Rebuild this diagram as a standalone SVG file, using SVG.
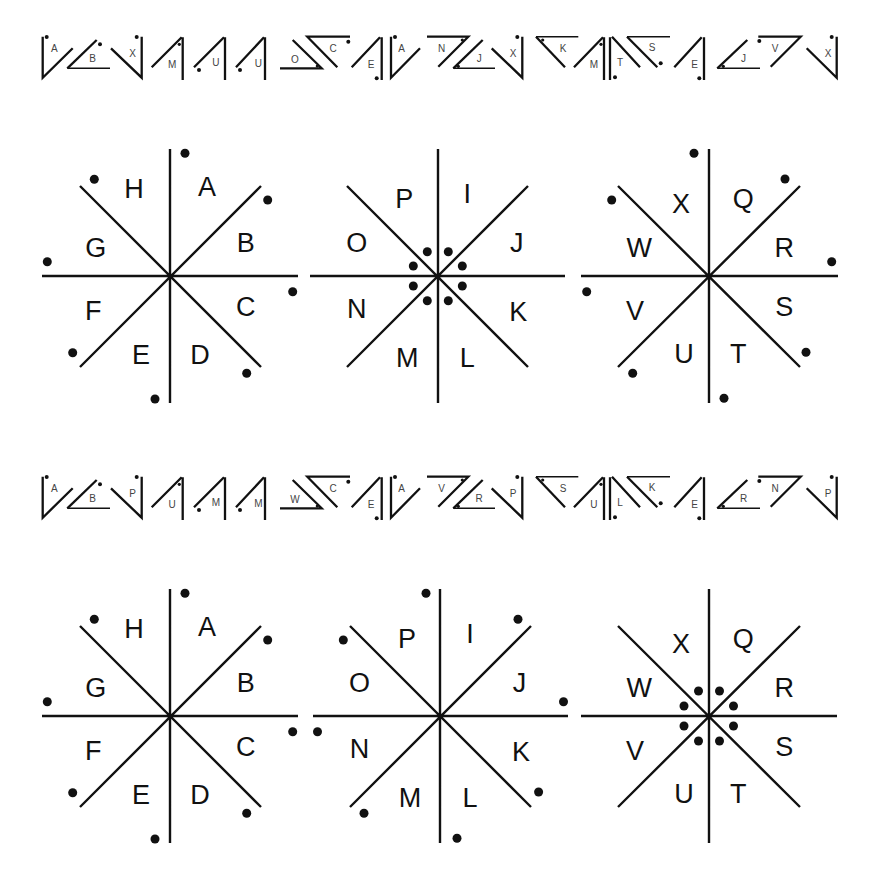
<svg xmlns="http://www.w3.org/2000/svg" width="880" height="880" viewBox="0 0 880 880">
<defs>
<style>
.g{fill:none;stroke:#111;stroke-width:2.3}
.t{stroke-width:1.6}
.s{fill:none;stroke:#111;stroke-width:2.4}
.d{fill:#111}
.gl{font-family:"Liberation Sans",Arial,sans-serif;font-size:10px;fill:#444;text-anchor:middle}
.sl{font-family:"Liberation Sans",Arial,sans-serif;font-size:27px;fill:#111;text-anchor:middle}
</style>
<g id="glyphs">
<path class="g" d="M42.7,36.7V77.7L72.7,48.3"/><circle class="d" cx="46.7" cy="37" r="2"/>
<path class="g" d="M96.7,40L67.3,68.3"/><path class="g t" d="M67.3,68.3H110"/><circle class="d" cx="100" cy="44.3" r="2"/>
<path class="g" d="M111,48.3L141.7,77.7V36.7"/><circle class="d" cx="136.7" cy="37" r="2"/>
<path class="g" d="M151.7,67.3L181.7,37.3M182.7,37.3V80"/><circle class="d" cx="179.3" cy="44.3" r="1.6"/>
<path class="g" d="M194,67.3L224,37.3M225,37.3V80"/><circle class="d" cx="199" cy="70" r="2"/>
<path class="g" d="M236,67.3L264,37.3M265,37.3V80"/><circle class="d" cx="240" cy="70" r="2"/>
<path class="g" d="M292.7,40L321.7,68.3H280"/><circle class="d" cx="317.3" cy="66" r="1.6"/>
<path class="g" d="M350,36.7H307.3L337.3,67.3"/><circle class="d" cx="348.3" cy="41.7" r="2"/>
<path class="g" d="M351.7,67.3L380,37.3M381.7,37.3V80"/><circle class="d" cx="376.7" cy="78.3" r="2"/>
<path class="g" d="M391,36.7V77.7L420,48.3"/><circle class="d" cx="395" cy="37" r="2"/>
<path class="g" d="M427,36.7H468.3L438.3,66.7"/><circle class="d" cx="462.3" cy="40" r="1.6"/>
<path class="g" d="M482.7,40L453.3,68.3"/><path class="g t" d="M453.3,68.3H495"/><circle class="d" cx="458.3" cy="66.3" r="1.6"/>
<path class="g" d="M491.7,48.3L522.3,77.7V36.7"/><circle class="d" cx="517.3" cy="37" r="2"/>
<path class="g t" d="M578.3,36.7H536"/><path class="g" d="M536,36.7L565,67.3"/><circle class="d" cx="542.7" cy="40" r="1.6"/>
<path class="g" d="M574,67.3L603,37.3M604,37.3V80"/><circle class="d" cx="601" cy="44.3" r="1.6"/>
<path class="g" d="M610,37.3V80M612,36.7L640,67.3"/><circle class="d" cx="615" cy="77.3" r="2"/>
<path class="g t" d="M670,36.7H627"/><path class="g" d="M627,36.7L657.3,67.3"/><circle class="d" cx="660.7" cy="63.3" r="2"/>
<path class="g" d="M674.3,67.3L701.7,37.3M704,37.3V80"/><circle class="d" cx="699.3" cy="78.3" r="2"/>
<path class="g" d="M747.3,40L717.3,68.3"/><path class="g t" d="M717.3,68.3H760"/><circle class="d" cx="723.3" cy="66.3" r="1.6"/>
<path class="g" d="M758.3,36.7H800.7L770.7,66.7"/><circle class="d" cx="759.3" cy="41" r="2"/>
<path class="g" d="M806.7,48.3L836.7,77.7V36.7"/><circle class="d" cx="831.7" cy="37" r="2"/>
</g>
</defs>

<g id="row1">
<use href="#glyphs"/>
<g class="gl">
<text x="54.3" y="51.7">A</text><text x="92.5" y="62.3">B</text><text x="132.5" y="56.7">X</text><text x="172.2" y="68.3">M</text><text x="215.8" y="65.7">U</text><text x="258.3" y="66.7">U</text><text x="295" y="62.7">O</text><text x="333" y="51.7">C</text><text x="371.2" y="67.7">E</text><text x="401.7" y="51.7">A</text><text x="441.7" y="51.7">N</text><text x="479.2" y="61.7">J</text><text x="513" y="56.7">X</text><text x="563" y="52.3">K</text><text x="593.8" y="67.7">M</text><text x="620" y="65.7">T</text><text x="652.2" y="50.7">S</text><text x="694.5" y="67.7">E</text><text x="743.5" y="62.3">J</text><text x="775" y="51.7">V</text><text x="828" y="56.7">X</text>
</g>
</g>

<g id="row2">
<use href="#glyphs" transform="translate(0,440)"/>
<g class="gl">
<text x="54.3" y="491.7">A</text><text x="92.5" y="502.3">B</text><text x="132.5" y="496.7">P</text><text x="172.2" y="508.3">U</text><text x="215.8" y="505.7">M</text><text x="258.3" y="506.7">M</text><text x="295" y="502.7">W</text><text x="333" y="491.7">C</text><text x="371.2" y="507.7">E</text><text x="401.7" y="491.7">A</text><text x="441.7" y="491.7">V</text><text x="479.2" y="501.7">R</text><text x="513" y="496.7">P</text><text x="563" y="492.3">S</text><text x="593.8" y="507.7">U</text><text x="620" y="505.7">L</text><text x="652.2" y="490.7">K</text><text x="694.5" y="507.7">E</text><text x="743.5" y="502.3">R</text><text x="775" y="491.7">N</text><text x="828" y="496.7">P</text>
</g>
</g>

<g id="star1">
<path class="s" d="M170,149V403M42,276H298M80,186L261,367M80,367L261,186"/>
<circle class="d" cx="170" cy="276" r="2.5"/>
<g class="d"><circle cx="185" cy="153.3" r="4.5"/><circle cx="267.7" cy="200" r="4.5"/><circle cx="292.7" cy="291.7" r="4.5"/><circle cx="246.7" cy="373.3" r="4.5"/><circle cx="155" cy="399" r="4.5"/><circle cx="72.7" cy="352.7" r="4.5"/><circle cx="47.3" cy="261.7" r="4.5"/><circle cx="94.3" cy="179.3" r="4.5"/></g>
<g class="sl"><text x="134" y="198.3">H</text><text x="207" y="196">A</text><text x="245.7" y="251.7">B</text><text x="245.7" y="316">C</text><text x="200" y="364.3">D</text><text x="141" y="364.3">E</text><text x="93.3" y="320">F</text><text x="95.7" y="257.3">G</text></g>
</g>

<g id="star2">
<path class="s" d="M438,149V403M310,276H565M347,186L528,367M347,367L528,186"/>
<circle class="d" cx="438" cy="276" r="2.5"/>
<g class="d"><circle cx="427.3" cy="251.7" r="4.5"/><circle cx="448.3" cy="251.7" r="4.5"/><circle cx="413.3" cy="266" r="4.5"/><circle cx="462.3" cy="266" r="4.5"/><circle cx="413.3" cy="286" r="4.5"/><circle cx="462.3" cy="286" r="4.5"/><circle cx="427.3" cy="300.7" r="4.5"/><circle cx="448.3" cy="300.7" r="4.5"/></g>
<g class="sl"><text x="404.3" y="208.3">P</text><text x="467.3" y="203.3">I</text><text x="516.7" y="252.3">J</text><text x="518.3" y="321">K</text><text x="467.3" y="366.7">L</text><text x="407.3" y="366.7">M</text><text x="356.7" y="318.3">N</text><text x="356.7" y="251.7">O</text></g>
</g>

<g id="star3">
<path class="s" d="M709,149V403M581,276H838M618,186L800,367M618,367L800,186"/>
<circle class="d" cx="709" cy="276" r="2.5"/>
<g class="d"><circle cx="694" cy="153.3" r="4.5"/><circle cx="785" cy="179" r="4.5"/><circle cx="831.7" cy="261.7" r="4.5"/><circle cx="806" cy="352.3" r="4.5"/><circle cx="724" cy="398.3" r="4.5"/><circle cx="632.7" cy="373.3" r="4.5"/><circle cx="586.7" cy="291.7" r="4.5"/><circle cx="611.7" cy="200" r="4.5"/></g>
<g class="sl"><text x="681" y="212.7">X</text><text x="743.3" y="208.3">Q</text><text x="784.3" y="257.3">R</text><text x="784.3" y="316">S</text><text x="738.3" y="362.7">T</text><text x="684" y="362.7">U</text><text x="635" y="320">V</text><text x="639.3" y="257.3">W</text></g>
</g>

<g id="star4">
<path class="s" d="M170,589V843M42,716H298M80,626L261,807M80,807L261,626"/>
<circle class="d" cx="170" cy="716" r="2.5"/>
<g class="d"><circle cx="185" cy="593.3" r="4.5"/><circle cx="267.7" cy="640" r="4.5"/><circle cx="292.7" cy="731.7" r="4.5"/><circle cx="246.7" cy="813.3" r="4.5"/><circle cx="155" cy="839" r="4.5"/><circle cx="72.7" cy="792.7" r="4.5"/><circle cx="47.3" cy="701.7" r="4.5"/><circle cx="94.3" cy="619.3" r="4.5"/></g>
<g class="sl"><text x="134" y="638.3">H</text><text x="207" y="636">A</text><text x="245.7" y="691.7">B</text><text x="245.7" y="756">C</text><text x="200" y="804.3">D</text><text x="141" y="804.3">E</text><text x="93.3" y="760">F</text><text x="95.7" y="697.3">G</text></g>
</g>

<g id="star5">
<path class="s" d="M440,589V843M313,716H568M350,626L531,807M350,807L531,626"/>
<circle class="d" cx="440" cy="716" r="2.5"/>
<g class="d"><circle cx="426" cy="593.3" r="4.5"/><circle cx="518" cy="619.3" r="4.5"/><circle cx="563.5" cy="701.7" r="4.5"/><circle cx="538.6" cy="792" r="4.5"/><circle cx="457" cy="838.3" r="4.5"/><circle cx="364" cy="813.3" r="4.5"/><circle cx="317.5" cy="731.7" r="4.5"/><circle cx="343.3" cy="640" r="4.5"/></g>
<g class="sl"><text x="407" y="648.3">P</text><text x="470" y="643.3">I</text><text x="519.5" y="692.3">J</text><text x="521" y="761">K</text><text x="470" y="806.7">L</text><text x="410" y="806.7">M</text><text x="359.5" y="758.3">N</text><text x="359.5" y="692.3">O</text></g>
</g>

<g id="star6">
<path class="s" d="M709,589V843M581,716H837M618,626L800,807M618,807L800,626"/>
<circle class="d" cx="709" cy="716" r="2.5"/>
<g class="d"><circle cx="698.5" cy="691" r="4.5"/><circle cx="719.5" cy="691" r="4.5"/><circle cx="684" cy="706" r="4.5"/><circle cx="733.5" cy="706" r="4.5"/><circle cx="684" cy="726" r="4.5"/><circle cx="733.5" cy="726" r="4.5"/><circle cx="698.5" cy="741" r="4.5"/><circle cx="719.5" cy="741" r="4.5"/></g>
<g class="sl"><text x="681" y="652.7">X</text><text x="743.3" y="648.3">Q</text><text x="784.3" y="697.3">R</text><text x="784.3" y="756">S</text><text x="738.3" y="802.7">T</text><text x="684" y="802.7">U</text><text x="635" y="760">V</text><text x="639.3" y="697.3">W</text></g>
</g>

<g id="connectors"></g>
</svg>
